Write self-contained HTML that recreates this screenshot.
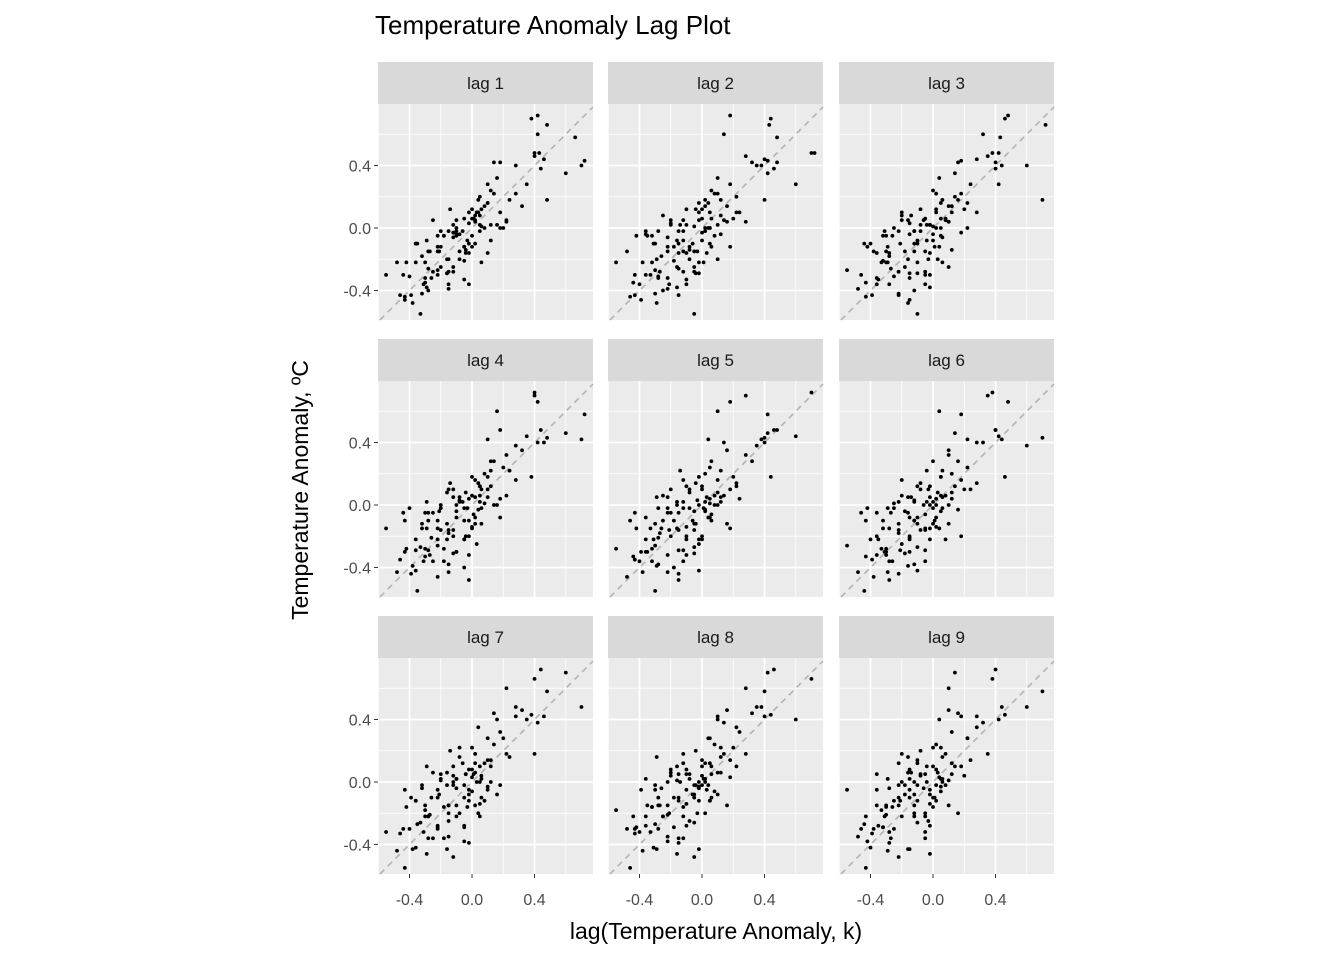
<!DOCTYPE html>
<html><head><meta charset="utf-8">
<style>
html,body{margin:0;padding:0;background:#fff;}
svg{display:block;font-family:"Liberation Sans",Arial,sans-serif;}
</style></head>
<body>
<svg id="chart" width="1344" height="960" viewBox="0 0 1344 960"></svg>
<script>
// Annual temperature anomaly series (°C)
const series = [
-0.18,-0.05,-0.12,-0.25,-0.28,-0.40,-0.31,-0.36,-0.10,-0.02,
-0.36,-0.22,-0.30,-0.32,-0.42,-0.22,-0.05,-0.12,-0.28,-0.15,
-0.02,-0.16,-0.29,-0.38,-0.48,-0.22,-0.15,-0.39,-0.43,-0.46,
-0.43,-0.44,-0.30,-0.35,-0.10,-0.05,-0.33,-0.55,-0.30,-0.22,
-0.27,-0.15,-0.28,-0.26,-0.32,-0.18,-0.05,-0.21,-0.15,-0.36,
-0.10,-0.04,-0.16,-0.29,-0.08,-0.20,-0.12,0.02,0.05,-0.02,
0.10,0.16,0.02,0.04,0.18,0.00,-0.12,-0.03,-0.08,-0.15,
-0.20,-0.02,0.03,0.10,-0.16,-0.20,-0.25,0.05,0.08,0.00,
-0.05,0.06,0.01,0.06,-0.22,-0.12,-0.06,-0.02,-0.10,0.05,
0.02,-0.10,0.00,0.12,-0.08,-0.04,-0.14,0.12,0.02,0.08,
0.14,0.22,0.05,0.20,0.00,0.06,0.12,0.24,0.18,0.10,
0.28,0.22,0.04,0.10,0.16,0.32,0.14,0.42,0.60,0.35,
0.28,0.40,0.46,0.44,0.38,0.70,0.40,0.48,0.18,0.42,
0.72,0.43,0.48,0.66,0.58
];
const lags = [1,2,3,4,5,6,7,8,9];
const majorTicks = [-0.4,0.0,0.4];
const minorTicks = [-0.6,-0.2,0.2,0.6];
const tickLabels = ["-0.4","0.0","0.4"];

const NS="http://www.w3.org/2000/svg";
const svg=document.getElementById('chart');
function mk(tag,attrs,parent){const e=document.createElementNS(NS,tag);for(const k in attrs)e.setAttribute(k,attrs[k]);(parent||svg).appendChild(e);return e;}

const colX=[378,608,839], rowY=[104,381,658], PW=215, PH=216, STRIP=42;
const XMIN=-0.6016, XMAX=0.774, YMIN=-0.589, YMAX=0.7936;
function sx(v,px){return px+(v-XMIN)/(XMAX-XMIN)*PW;}
function sy(v,py){return py+PH-(v-YMIN)/(YMAX-YMIN)*PH;}

lags.forEach((k,i)=>{
  const c=i%3, r=Math.floor(i/3), px=colX[c], py=rowY[r];
  const g=mk('g',{});
  
  
  const strip=mk('rect',{x:px,y:py-STRIP,width:PW,height:STRIP,fill:'#d9d9d9'},g);
  
  
  const st=mk('text',{x:px+PW/2,y:py-STRIP/2+6,'text-anchor':'middle','font-size':'17',fill:'#1a1a1a'},g);
  st.textContent='lag '+k;
  
  
  const bg=mk('rect',{x:px,y:py,width:PW,height:PH,fill:'#ebebeb'},g);
  
  
  minorTicks.forEach(t=>{
    const X=sx(t,px); if(X>px&&X<px+PW) mk('line',{x1:X,x2:X,y1:py,y2:py+PH,stroke:'#fff','stroke-width':0.8},g);
    const Y=sy(t,py); if(Y>py&&Y<py+PH) mk('line',{x1:px,x2:px+PW,y1:Y,y2:Y,stroke:'#fff','stroke-width':0.8},g);
  });
  majorTicks.forEach(t=>{
    const X=sx(t,px); mk('line',{x1:X,x2:X,y1:py,y2:py+PH,stroke:'#fff','stroke-width':1.7},g);
    const Y=sy(t,py); mk('line',{x1:px,x2:px+PW,y1:Y,y2:Y,stroke:'#fff','stroke-width':1.7},g);
  });
  const lo=Math.max(XMIN,YMIN), hi=Math.min(XMAX,YMAX);
  const diag=mk('line',{x1:sx(lo,px),y1:sy(lo,py),x2:sx(hi,px),y2:sy(hi,py),stroke:'#b3b3b3','stroke-width':1.6,'stroke-dasharray':'6,5'},g);
  
  
  for(let t=k;t<series.length;t++){
    const xv=series[t-k], yv=series[t];
    const p=mk('circle',{cx:sx(xv,px),cy:sy(yv,py),r:1.9,fill:'#000'},g);
    
    
  }
  if(c===0){
    majorTicks.forEach((t,j)=>{
      const Y=sy(t,py);
      mk('line',{x1:px-4,x2:px,y1:Y,y2:Y,stroke:'#333','stroke-width':1},g);
      const tl=mk('text',{x:px-7,y:Y+6,'text-anchor':'end','font-size':'16',fill:'#4d4d4d'},g);
      tl.textContent=tickLabels[j];
      
      
    });
  }
  if(r===2){
    majorTicks.forEach((t,j)=>{
      const X=sx(t,px);
      mk('line',{x1:X,x2:X,y1:py+PH,y2:py+PH+4,stroke:'#333','stroke-width':1},g);
      const tl=mk('text',{x:X,y:py+PH+31,'text-anchor':'middle','font-size':'16',fill:'#4d4d4d'},g);
      tl.textContent=tickLabels[j];
      
      
    });
  }
});
</script>
<div style="position:absolute;left:0;top:0;width:1344px;height:960px;pointer-events:none;font-family:'Liberation Sans',Arial,sans-serif;">
  <div style="position:absolute;left:375px;top:10px;font-size:26px;color:#000;white-space:nowrap;">Temperature Anomaly Lag Plot</div>
  <div style="position:absolute;left:416px;width:600px;text-align:center;top:918px;font-size:23px;color:#000;white-space:nowrap;">lag(Temperature Anomaly, k)</div>
  <div style="position:absolute;left:0px;top:477px;width:600px;text-align:center;font-size:23px;color:#000;white-space:nowrap;transform-origin:300px 13px;transform:rotate(-90deg);">Temperature Anomaly, ºC</div>
</div>
</body></html>
